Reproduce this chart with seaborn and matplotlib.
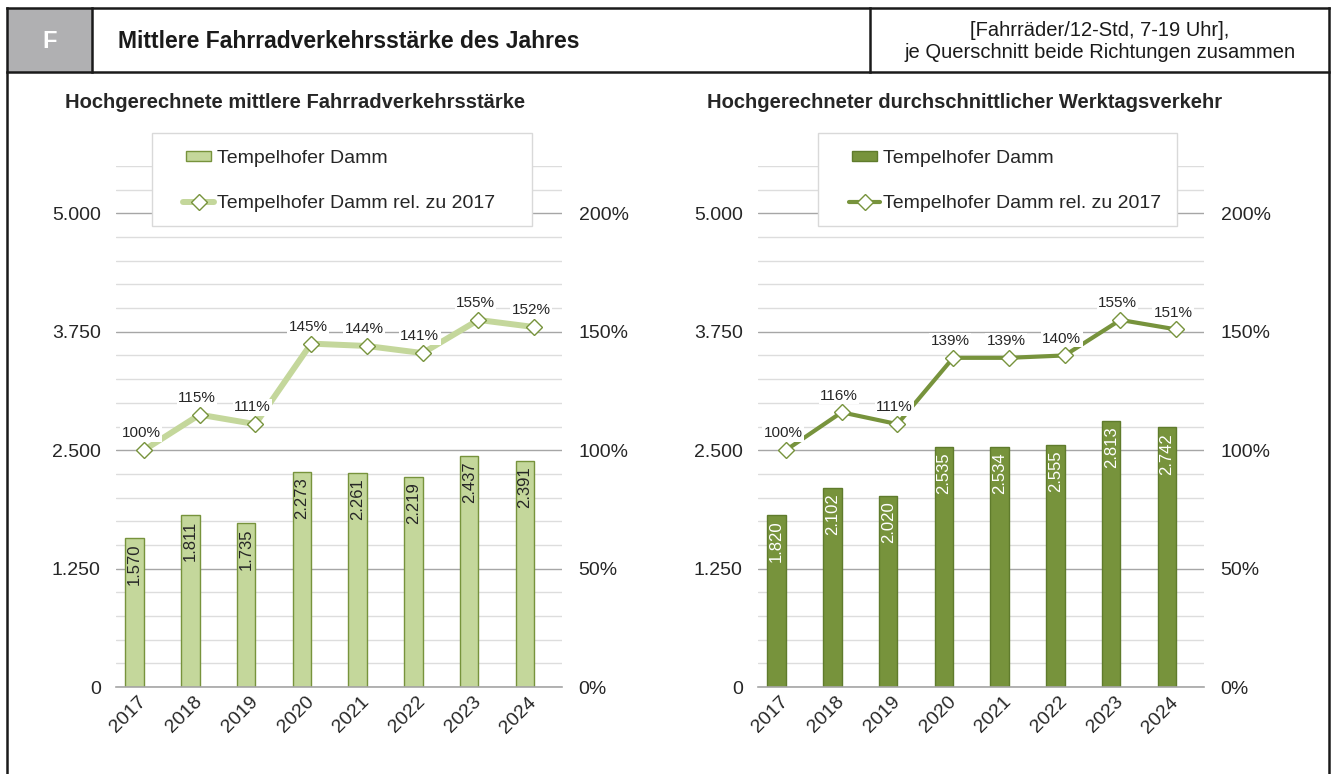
import numpy as np
import pandas as pd
import matplotlib
matplotlib.use("Agg")
import matplotlib.pyplot as plt
from matplotlib.patches import Rectangle
from matplotlib.lines import Line2D
from matplotlib.legend_handler import HandlerPatch
from matplotlib.ticker import FixedLocator, FuncFormatter
import seaborn as sns

# ---- data -------------------------------------------------------------
years = ["2017", "2018", "2019", "2020", "2021", "2022", "2023", "2024"]
mean_volume = [1570, 1811, 1735, 2273, 2261, 2219, 2437, 2391]
mean_rel = [100, 115, 111, 145, 144, 141, 155, 152]
workday_volume = [1820, 2102, 2020, 2535, 2534, 2555, 2813, 2742]
workday_rel = [100, 116, 111, 139, 139, 140, 155, 151]

volume_ticks = [0, 1250, 2500, 3750, 5000]
rel_ticks = [0, 50, 100, 150, 200]

series_label = "Tempelhofer Damm"
rel_label = "Tempelhofer Damm rel. zu 2017"
panel_titles = ["Hochgerechnete mittlere Fahrradverkehrsstärke",
                "Hochgerechneter durchschnittlicher Werktagsverkehr"]
header_tag = "F"
header_title = "Mittlere Fahrradverkehrsstärke des Jahres"
header_note = ["[Fahrräder/12-Std, 7-19 Uhr],",
               "je Querschnitt beide Richtungen zusammen"]

# ---- style ------------------------------------------------------------
LIGHT = "#C4D79B"
OLIVE = "#77933C"
DARK_OLIVE = "#5F7B2C"
GRID_MAJOR = "#A6A6A6"
GRID_MINOR = "#DDDDDD"
TEXT = "#262626"
TICK_FS = 14

sns.set_theme(style="white")
plt.rcParams["font.family"] = ["Liberation Sans", "DejaVu Sans"]

W, H = 1331, 774
fig = plt.figure(figsize=(W / 100, H / 100), dpi=100)


def fx(x):
    return x / W


def fy(y):
    return 1 - y / H


def fmt_thousands(v, _pos=None):
    return f"{int(round(v)):,}".replace(",", ".")


def small_swatch(legend, orig_handle, xdescent, ydescent, width, height,
                 fontsize):
    # bar swatch is a bit narrower than the line swatch
    w = width * 0.8
    h = height * 0.75
    return Rectangle((-xdescent + (width - w) / 2, -ydescent + (height - h) / 2),
                     w, h)


def draw_panel(left_px, volume, rel, bar_face, bar_edge, line_color,
               label_color, line_width):
    ax = fig.add_axes([fx(left_px), fy(687), 446 / W, (687 - 166) / H])
    df = pd.DataFrame({"Jahr": years, "Wert": volume})
    sns.barplot(data=df, x="Jahr", y="Wert", color=bar_face, saturation=1,
                edgecolor=bar_edge, linewidth=1, width=0.33, ax=ax)
    # the bars sit to the left of the category centre
    for p in ax.patches:
        p.set_x(p.get_x() - p.get_width() / 2)
    for p, v in zip(ax.patches, volume):
        ax.annotate(fmt_thousands(v), (p.get_x() + p.get_width() / 2, v),
                    xytext=(0, -4), textcoords="offset points",
                    rotation=90, ha="center", va="top", fontsize=12,
                    color=label_color)

    ax.set_ylim(0, 5500)
    ax.set_xlim(-0.5, len(years) - 0.5)
    ax.set_yticks(volume_ticks)
    ax.yaxis.set_major_formatter(FuncFormatter(fmt_thousands))
    ax.yaxis.set_minor_locator(FixedLocator(np.arange(0, 5501, 250)))
    ax.grid(axis="y", which="minor", color=GRID_MINOR, lw=1)
    ax.grid(axis="y", which="major", color=GRID_MAJOR, lw=1)
    ax.set_axisbelow(True)
    ax.set_xlabel("")
    ax.set_ylabel("")
    for side in ("top", "left", "right"):
        ax.spines[side].set_visible(False)
    ax.spines["bottom"].set_color(GRID_MAJOR)
    ax.spines["bottom"].set_linewidth(1.2)
    ax.tick_params(axis="y", which="both", length=0, pad=11,
                   labelsize=TICK_FS, labelcolor=TEXT)
    ax.xaxis.set_minor_locator(FixedLocator(np.arange(-0.5, len(years), 1)))
    ax.tick_params(axis="x", which="major", length=0, pad=9,
                   labelsize=TICK_FS, labelcolor=TEXT)
    ax.tick_params(axis="x", which="minor", length=6, direction="inout",
                   color=GRID_MAJOR, width=1)
    for lab in ax.get_xticklabels():
        lab.set_rotation(45)
        lab.set_ha("right")
        lab.set_va("center")
        lab.set_rotation_mode("anchor")

    ax2 = ax.twinx()
    sns.lineplot(x=np.arange(len(years)), y=rel, ax=ax2, color=line_color,
                 lw=line_width, marker="D", markersize=8.5,
                 markerfacecolor="white", markeredgecolor=OLIVE,
                 markeredgewidth=1, zorder=3)
    for i, r in enumerate(rel):
        ax2.annotate(f"{r}%", (i, r), xytext=(-2, 7),
                     textcoords="offset points", ha="center", va="bottom",
                     fontsize=11, color=TEXT, zorder=4,
                     bbox=dict(fc="white", ec="none", pad=1))
    ax2.set_ylim(0, 220)
    ax2.set_xlim(-0.5, len(years) - 0.5)
    ax2.set_yticks(rel_ticks)
    ax2.yaxis.set_major_formatter(FuncFormatter(lambda v, _p: f"{int(v)}%"))
    ax2.tick_params(axis="y", length=0, pad=12, labelsize=TICK_FS,
                    labelcolor=TEXT)
    ax2.set_ylabel("")
    for side in ax2.spines:
        ax2.spines[side].set_visible(False)

    handles = [
        Rectangle((0, 0), 1, 1, facecolor=bar_face, edgecolor=bar_edge, lw=1),
        Line2D([], [], color=line_color, lw=line_width, marker="D",
               markersize=8, markerfacecolor="white",
               markeredgecolor=OLIVE, markeredgewidth=1),
    ]
    return ax, ax2, handles


axL, axL2, hL = draw_panel(116, mean_volume, mean_rel, LIGHT, OLIVE,
                           LIGHT, TEXT, 4.3)
axR, axR2, hR = draw_panel(758, workday_volume, workday_rel, OLIVE,
                           DARK_OLIVE, OLIVE, "white", 3.0)

# legends: a plain box plus a frameless legend inside it
for ax2, handles, box in ((axL2, hL, (152, 133, 532, 226)),
                          (axR2, hR, (818, 133, 1177, 226))):
    x0, y0, x1, y1 = box
    ax2.add_patch(Rectangle((fx(x0), fy(y1)), fx(x1) - fx(x0),
                            fy(y0) - fy(y1), transform=fig.transFigure,
                            facecolor="white", edgecolor="#D9D9D9", lw=1,
                            clip_on=False, zorder=5))
    leg = ax2.legend(handles, [series_label, rel_label], loc="upper left",
                     bbox_to_anchor=(fx(x0 + 31), fy(y0 + 16)),
                     bbox_transform=fig.transFigure, frameon=False,
                     fontsize=TICK_FS, borderpad=0, labelspacing=1.45,
                     handlelength=1.6, handletextpad=0.15, borderaxespad=0,
                     handler_map={Rectangle: HandlerPatch(patch_func=small_swatch)})
    leg.set_zorder(6)
    for t in leg.get_texts():
        t.set_color(TEXT)

# ---- panel titles -----------------------------------------------------
fig.text(fx(295), fy(103), panel_titles[0], ha="center", va="center",
         fontsize=14.5, fontweight="bold", color=TEXT)
fig.text(fx(965), fy(103), panel_titles[1], ha="center", va="center",
         fontsize=14.5, fontweight="bold", color=TEXT)

# ---- header and frame -------------------------------------------------
fig.add_artist(Rectangle((fx(7), fy(72)), fx(92) - fx(7), fy(8) - fy(72),
                         transform=fig.transFigure, facecolor="#B0B0B2",
                         edgecolor="none"))
fig.text(fx(50), fy(41), header_tag, ha="center", va="center",
         fontsize=17, fontweight="bold", color="white")
fig.text(fx(118), fy(41), header_title, ha="left", va="center",
         fontsize=16.5, fontweight="bold", color="#1A1A1A")
fig.text(fx(1100), fy(30), header_note[0], ha="center", va="center",
         fontsize=14.5, color="#1A1A1A")
fig.text(fx(1100), fy(52), header_note[1], ha="center", va="center",
         fontsize=14.5, color="#1A1A1A")

frame_lines = [
    ((7, 1329), (8, 8)),
    ((7, 1329), (72, 72)),
    ((7, 7), (8, 774)),
    ((1329, 1329), (8, 774)),
    ((92, 92), (8, 72)),
    ((870, 870), (8, 72)),
]
for xs, ys in frame_lines:
    fig.add_artist(Line2D([fx(xs[0]), fx(xs[1])], [fy(ys[0]), fy(ys[1])],
                          transform=fig.transFigure, color="#1A1A1A",
                          lw=1.8, solid_capstyle="projecting"))

fig.savefig("out.png", dpi=100)
